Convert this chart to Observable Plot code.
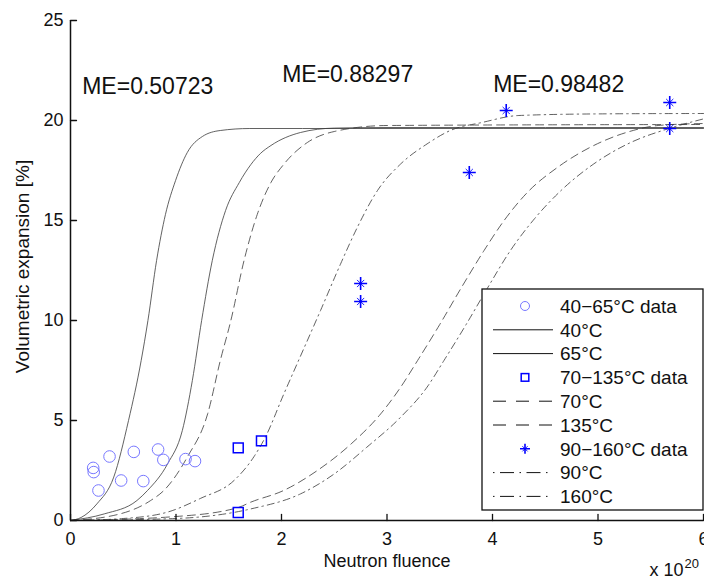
<!DOCTYPE html>
<html><head><meta charset="utf-8">
<script src="https://cdn.jsdelivr.net/npm/d3@7"></script>
<script src="https://cdn.jsdelivr.net/npm/@observablehq/plot@0.6"></script>
<style>
html,body{margin:0;padding:0;background:#fff;}
#wrap{position:relative;width:704px;height:579px;overflow:hidden;font-family:"Liberation Sans",Arial,Helvetica,sans-serif;}
#wrap svg{display:block;}
#overlay{position:absolute;left:0;top:0;pointer-events:none;}
</style></head><body><div id="wrap"></div>
<script>
// ---- ticks ----
const xTicks = [0, 1, 2, 3, 4, 5, 6];
const yTicks = [0, 5, 10, 15, 20, 25];

// ---- measured data ----
const circX = [0.215, 0.22, 0.265, 0.37, 0.48, 0.60, 0.69, 0.83, 0.88, 1.09, 1.18];
const circY = [2.63, 2.42, 1.5, 3.2, 2.0, 3.43, 1.97, 3.55, 3.03, 3.07, 2.97];
const sqX = [1.59, 1.81, 1.59];
const sqY = [3.63, 3.98, 0.4];
const starX = [2.75, 2.75, 3.78, 4.13, 5.68, 5.68];
const starY = [11.85, 10.95, 17.4, 20.5, 20.9, 19.6];

// ---- fitted curves ----
const c40x = [0, 0.1, 0.25, 0.41, 0.55, 0.67, 0.734, 0.816, 0.90, 0.996, 1.107, 1.25, 1.42, 1.7, 2.2, 6];
const c40y = [0, 0.15, 0.83, 2.17, 5.0, 8.0, 10.0, 13.0, 15.3, 17.0, 18.4, 19.2, 19.5, 19.6, 19.6, 19.6];
const c65x = [0, 0.32, 0.63, 0.73, 0.92, 1.06, 1.155, 1.243, 1.344, 1.47, 1.60, 1.71, 1.80, 1.90, 2.18, 2.5, 3.0, 6];
const c65y = [0, 0.33, 1.0, 1.5, 2.83, 4.5, 7.0, 10.0, 13.0, 15.5, 16.9, 17.8, 18.35, 18.75, 19.4, 19.62, 19.65, 19.65];
const c70x = [0, 0.47, 0.76, 0.885, 1.107, 1.30, 1.42, 1.52, 1.645, 1.77, 1.90, 2.02, 2.245, 2.5, 3.0, 6];
const c70y = [0, 0.33, 1.0, 1.5, 3.17, 5.33, 8.0, 10.0, 13.0, 15.3, 16.9, 17.8, 18.9, 19.45, 19.75, 19.8];
const c90x = [0, 0.5, 0.92, 1.23, 1.55, 1.74, 1.85, 2.02, 2.17, 2.37, 2.56, 2.72, 2.91, 3.13, 3.38, 3.6, 3.9, 4.25, 5.0, 6];
const c90y = [0, 0.1, 0.42, 1.1, 2.0, 3.2, 4.2, 6.3, 8.1, 10.5, 12.83, 14.67, 16.5, 17.83, 18.83, 19.5, 19.9, 20.25, 20.33, 20.35];
const c135x = [0, 1.0, 1.59, 1.71, 2.02, 2.34, 2.66, 2.94, 3.13, 3.29, 3.5, 3.70, 3.92, 4.11, 4.33, 4.62, 4.96, 5.28, 5.57, 6];
const c135y = [0, 0.2, 0.65, 0.92, 1.5, 2.5, 3.83, 5.33, 6.67, 8.0, 9.8, 11.6, 13.5, 15.0, 16.4, 17.67, 18.75, 19.42, 19.75, 19.85];
const c160x = [0, 1.0, 1.71, 2.18, 2.5, 2.81, 3.13, 3.38, 3.54, 3.75, 3.95, 4.17, 4.40, 4.65, 4.96, 5.31, 5.66, 6];
const c160y = [0, 0.1, 0.58, 1.33, 2.33, 3.67, 5.17, 6.67, 8.0, 9.8, 11.6, 13.5, 15.1, 16.5, 17.83, 18.9, 19.58, 20.08];

// ---- annotations ----
const meLabels = ["ME=0.50723", "ME=0.88297", "ME=0.98482"];
const meX = [0.111, 2.006, 4.006];
const meY = [21.7, 22.3, 21.8];

const legendLabels = ["40\u221265\u00B0C data", "40\u00B0C", "65\u00B0C", "70\u2212135\u00B0C data", "70\u00B0C", "135\u00B0C", "90\u2212160\u00B0C data", "90\u00B0C", "160\u00B0C"];
const legendKinds = ["circle", "solid", "solid", "square", "dash", "dash", "star", "dashdot", "dashdot"];

// ---- styles ----
const FONT = "'Liberation Sans', Arial, Helvetica, sans-serif";
const CURVE_COLOR = "#3a3a3a";
const CURVE_W = 0.8;
const DASH = "8,5";
const DASHDOT = "7,4,1.5,4";

const pts = (xs, ys) => xs.map((x, i) => ({x, y: ys[i]}));

const plusSym = {draw(c, s) { const r = Math.sqrt(s / Math.PI); c.moveTo(-r, 0); c.lineTo(r, 0); c.moveTo(0, -r); c.lineTo(0, r); }};
const timesSym = {draw(c, s) { const r = Math.sqrt(s / Math.PI) * 0.55; c.moveTo(-r, -r); c.lineTo(r, r); c.moveTo(-r, r); c.lineTo(r, -r); }};
const tickShape = {draw(c, l) { c.moveTo(0, 0); c.lineTo(0, -l); }};

const curveDefs = [
  {xs: c40x, ys: c40y, dash: null},
  {xs: c65x, ys: c65y, dash: null},
  {xs: c70x, ys: c70y, dash: DASH},
  {xs: c90x, ys: c90y, dash: DASHDOT},
  {xs: c135x, ys: c135y, dash: DASH},
  {xs: c160x, ys: c160y, dash: DASHDOT}
];

const chart = Plot.plot({
  width: 704, height: 579,
  marginLeft: 70, marginRight: 1, marginTop: 20, marginBottom: 59,
  x: {domain: [0, 6], label: null},
  y: {domain: [0, 25], label: null},
  style: {fontFamily: FONT, fontSize: "18px", color: "#000", background: "#fff", overflow: "hidden"},
  marks: [
    ...curveDefs.map(c => Plot.line(pts(c.xs, c.ys), {
      x: "x", y: "y", curve: "monotone-x",
      stroke: CURVE_COLOR, strokeWidth: CURVE_W,
      strokeDasharray: c.dash || undefined
    })),
    Plot.dot(pts(circX, circY), {x: "x", y: "y", r: 5.8, stroke: "#7878ff", strokeWidth: 1, fill: "none"}),
    Plot.dot(pts(sqX, sqY), {x: "x", y: "y", r: 5.6, symbol: "square", stroke: "#0000ff", strokeWidth: 1.5, fill: "none"}),
    Plot.dot(pts(starX, starY), {x: "x", y: "y", r: 6.5, symbol: plusSym, stroke: "#0000ff", strokeWidth: 1.6, fill: "none"}),
    Plot.dot(pts(starX, starY), {x: "x", y: "y", r: 6.5, symbol: timesSym, stroke: "#0000ff", strokeWidth: 0.9, fill: "none"}),
    Plot.ruleX([0], {stroke: "#111", strokeWidth: 1.5}),
    Plot.ruleY([0], {stroke: "#111", strokeWidth: 1.5}),
    // inward tick marks
    Plot.vector(xTicks, {x: d => d, y: () => 0, length: 6, rotate: 0, anchor: "start", shape: tickShape, stroke: "#111", strokeWidth: 1.3}),
    Plot.vector(yTicks, {x: () => 0, y: d => d, length: 6, rotate: 90, anchor: "start", shape: tickShape, stroke: "#111", strokeWidth: 1.3}),
    Plot.axisX(xTicks, {tickSize: 0, tickPadding: 12, fontSize: 18, label: null, fill: "#111"}),
    Plot.axisY(yTicks, {tickSize: 0, tickPadding: 7, fontSize: 18, label: null, fill: "#111"}),
    Plot.text(meLabels, {x: (d, i) => meX[i], y: (d, i) => meY[i], text: d => d, textAnchor: "start", fontSize: 23, fill: "#111"}),
    Plot.text(["Neutron fluence"], {frameAnchor: "bottom", text: d => d, textAnchor: "middle", lineAnchor: "bottom", dy: 46, fontSize: 18, fill: "#111"}),
    Plot.text(["Volumetric expansion [%]"], {frameAnchor: "left", text: d => d, textAnchor: "middle", rotate: -90, dx: -48, dy: -4, fontSize: 19, fill: "#111"}),
    Plot.text(["x 10"], {frameAnchor: "bottom-right", text: d => d, textAnchor: "end", lineAnchor: "bottom", dx: -20, dy: 55, fontSize: 18, fill: "#111"}),
    Plot.text(["20"], {frameAnchor: "bottom-right", text: d => d, textAnchor: "start", lineAnchor: "bottom", dx: -19, dy: 47, fontSize: 13, fill: "#111"})
  ]
});

const wrap = document.getElementById("wrap");
wrap.appendChild(chart);

// ---- legend overlay ----
const ov = d3.select(wrap).append("svg").attr("id", "overlay").attr("width", 704).attr("height", 579);
const box = {x: 482, y: 289, w: 221, h: 221};
const g = ov.append("g").attr("font-family", FONT).attr("font-size", 19);
g.append("rect").attr("x", box.x).attr("y", box.y).attr("width", box.w).attr("height", box.h)
  .attr("fill", "#fff").attr("stroke", "#111").attr("stroke-width", 1.3);
const rowY0 = box.y + 17, rowH = 23.8;
const lx1 = 493, lx2 = 553, mx = 525, tx = 560;
legendLabels.forEach((lab, i) => {
  const y = rowY0 + i * rowH;
  const k = legendKinds[i];
  if (k === "circle") {
    g.append("circle").attr("cx", mx).attr("cy", y).attr("r", 4.5).attr("fill", "none").attr("stroke", "#7878ff").attr("stroke-width", 1);
  } else if (k === "square") {
    g.append("rect").attr("x", mx - 3.8).attr("y", y - 3.8).attr("width", 7.6).attr("height", 7.6).attr("fill", "none").attr("stroke", "#0000ff").attr("stroke-width", 1.5);
  } else if (k === "star") {
    const r = 5, d = 2.6;
    g.append("path").attr("d", `M${mx - r},${y}H${mx + r}M${mx},${y - r}V${y + r}`).attr("stroke", "#0000ff").attr("stroke-width", 1.6);
    g.append("path").attr("d", `M${mx - d},${y - d}L${mx + d},${y + d}M${mx - d},${y + d}L${mx + d},${y - d}`).attr("stroke", "#0000ff").attr("stroke-width", 0.9);
  } else {
    const l = g.append("line").attr("x1", lx1).attr("x2", lx2).attr("y1", y).attr("y2", y).attr("stroke", "#111").attr("stroke-width", 1);
    if (k === "dash") l.attr("stroke-dasharray", "13,10");
    if (k === "dashdot") l.attr("stroke-dasharray", "1.5,5.5,14,5.5");
  }
  g.append("text").attr("x", tx).attr("y", y).attr("dy", "0.36em").attr("fill", "#111").text(lab);
});
</script></body></html>
